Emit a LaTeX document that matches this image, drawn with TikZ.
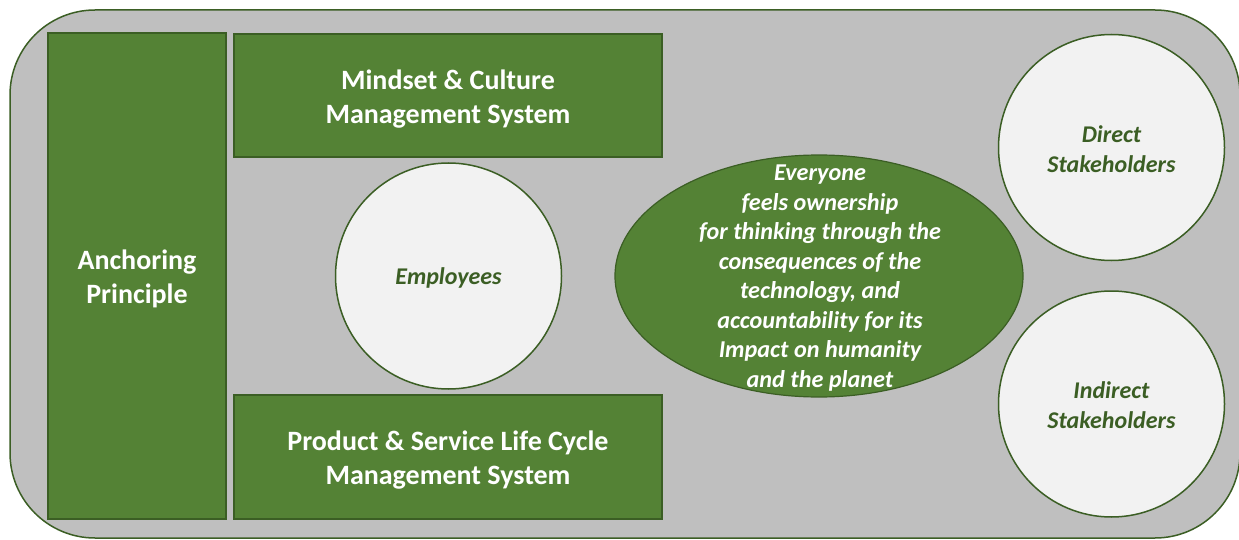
\documentclass[tikz,border=0pt]{standalone}
\usepackage{fontspec}
\setmainfont{Carlito}
\usetikzlibrary{shapes.geometric}
\definecolor{gfill}{HTML}{548235}
\definecolor{gline}{HTML}{3B5E24}
\definecolor{bggray}{HTML}{BFBFBF}
\definecolor{cfill}{HTML}{F2F2F2}
\definecolor{ctext}{HTML}{3B5E24}
\tikzset{
  greenbox/.style={draw=gline, line width=1.5pt, fill=gfill, rectangle, inner sep=0pt},
  boxtext/.style={text=white, font=\fontsize{28}{34}\selectfont\bfseries, align=center, inner sep=0pt},
  wcircle/.style={draw=gline, line width=1.5pt, fill=cfill, circle, inner sep=0pt, minimum size=226pt},
  circtext/.style={text=ctext, font=\fontsize{24}{30}\selectfont\bfseries\itshape, align=center, inner sep=0pt},
  goval/.style={draw=gline, line width=1.2pt, fill=gfill, ellipse, inner sep=0pt,
    minimum width=408pt, minimum height=242pt},
  ovaltext/.style={text=white, font=\fontsize{24.2}{29.5}\selectfont\bfseries\itshape, align=center, inner sep=0pt}
}
\begin{document}
\begin{tikzpicture}[x=1pt,y=-1pt]
\useasboundingbox (0,0) rectangle (1239,540);
\draw[draw=gline, line width=1.5pt, fill=bggray, rounded corners=85pt] (10,10) rectangle (1240,538);
\node[greenbox, minimum width=178pt, minimum height=486pt] (anchor) at (137,276) {};
\node[boxtext] (anchor-t) at (137,279) {Anchoring\\Principle};
\node[greenbox, minimum width=428pt, minimum height=123pt] (mindset) at (448,95.5) {};
\node[boxtext] (mindset-t) at (448,99) {Mindset \& Culture\\Management System};
\node[greenbox, minimum width=428pt, minimum height=124pt] (product) at (448,457) {};
\node[boxtext] (product-t) at (448,460) {Product \& Service Life Cycle\\Management System};
\node[wcircle] (emp) at (448.5,276) {};
\node[circtext] (emp-t) at (448.5,278) {Employees};
\node[goval] (own) at (819,276) {};
\node[ovaltext] (own-t) at (820,278) {Everyone\\feels ownership\\for thinking through the\\consequences of the\\technology, and\\accountability for its\\Impact on humanity\\and the planet};
\node[wcircle] (direct) at (1111.5,147.5) {};
\node[circtext] (direct-t) at (1111.5,149.5) {Direct\\Stakeholders};
\node[wcircle] (indirect) at (1111.5,404) {};
\node[circtext] (indirect-t) at (1111.5,405) {Indirect\\Stakeholders};
\end{tikzpicture}
\end{document}
